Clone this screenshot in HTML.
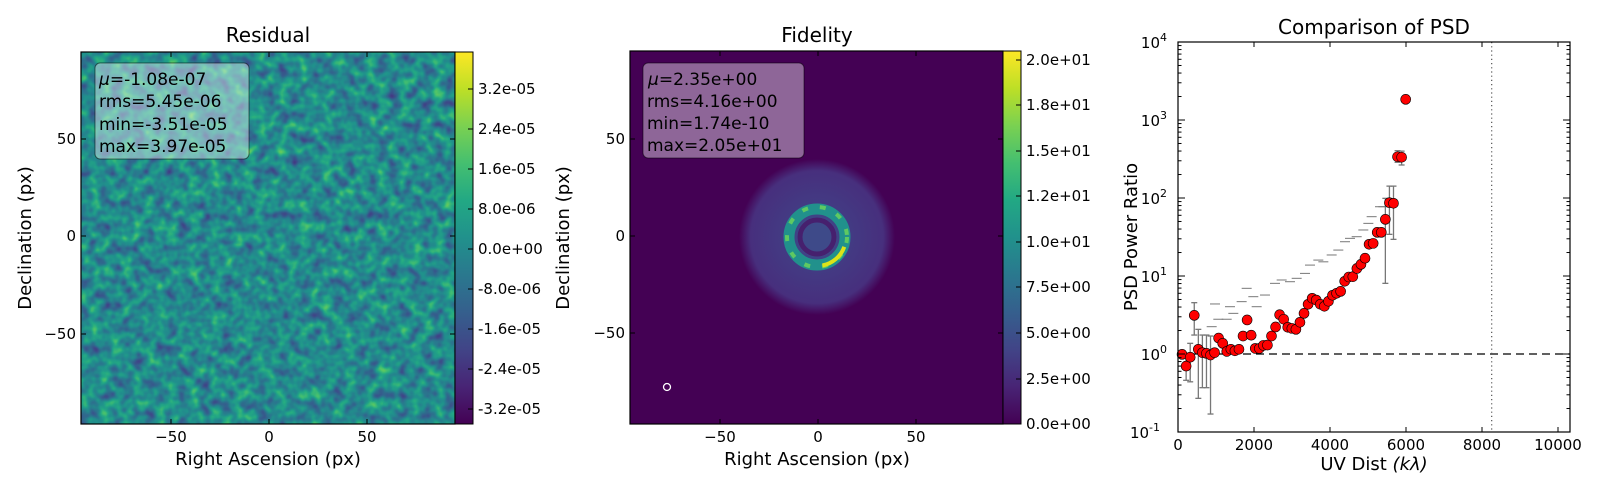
<!DOCTYPE html>
<html><head><meta charset="utf-8"><style>
html,body{margin:0;padding:0;background:#fff;}
svg{display:block;font-family:"DejaVu Sans","Liberation Sans",sans-serif;}
</style></head><body>
<svg id="fig" width="1600" height="500" viewBox="0 0 1600 500" xmlns="http://www.w3.org/2000/svg">
<defs>
  <linearGradient id="viridis" x1="0" y1="1" x2="0" y2="0">
    <stop offset="0" stop-color="#440154"/><stop offset="0.1" stop-color="#482475"/>
    <stop offset="0.2" stop-color="#414487"/><stop offset="0.3" stop-color="#355f8d"/>
    <stop offset="0.4" stop-color="#2a788e"/><stop offset="0.5" stop-color="#21918c"/>
    <stop offset="0.6" stop-color="#22a884"/><stop offset="0.7" stop-color="#44bf70"/>
    <stop offset="0.8" stop-color="#7ad151"/><stop offset="0.9" stop-color="#bddf26"/>
    <stop offset="1" stop-color="#fde725"/>
  </linearGradient>
  <filter id="resnoise" x="0" y="0" width="1" height="1" color-interpolation-filters="sRGB">
    <feTurbulence type="fractalNoise" baseFrequency="0.09" numOctaves="2" seed="7"/>
    <feColorMatrix type="matrix" values="0.75 0 0 0 0.1  0.75 0 0 0 0.1  0.75 0 0 0 0.1  0 0 0 0 1"/>
    <feComponentTransfer>
      <feFuncR type="table" tableValues="0.267 0.283 0.254 0.207 0.164 0.128 0.135 0.267 0.478 0.741 0.993"/>
      <feFuncG type="table" tableValues="0.005 0.141 0.265 0.372 0.471 0.567 0.659 0.749 0.821 0.873 0.906"/>
      <feFuncB type="table" tableValues="0.329 0.458 0.530 0.553 0.558 0.551 0.518 0.441 0.318 0.150 0.144"/>
    </feComponentTransfer>
  </filter>
  <radialGradient id="halo" cx="0.5" cy="0.5" r="0.5">
    <stop offset="0" stop-color="#3b4f8a"/><stop offset="0.45" stop-color="#433a83"/>
    <stop offset="0.85" stop-color="#472f7d"/><stop offset="1" stop-color="#440154"/>
  </radialGradient>
</defs>

<!-- Residual panel -->
<g>
  <text x="268" y="42" font-size="20" text-anchor="middle">Residual</text>
  <rect x="81" y="52" width="374" height="372" filter="url(#resnoise)"/>
  <rect x="81" y="52" width="374" height="372" fill="none" stroke="#000" stroke-width="1.2"/>
  <g stroke="#000" stroke-width="1">
    <line x1="171" y1="424" x2="171" y2="419"/><line x1="269" y1="424" x2="269" y2="419"/><line x1="367" y1="424" x2="367" y2="419"/>
    <line x1="171" y1="52" x2="171" y2="57"/><line x1="269" y1="52" x2="269" y2="57"/><line x1="367" y1="52" x2="367" y2="57"/>
    <line x1="81" y1="139" x2="86" y2="139"/><line x1="81" y1="236" x2="86" y2="236"/><line x1="81" y1="334" x2="86" y2="334"/>
    <line x1="455" y1="139" x2="450" y2="139"/><line x1="455" y1="236" x2="450" y2="236"/><line x1="455" y1="334" x2="450" y2="334"/>
  </g>
  <g font-size="15" text-anchor="middle">
    <text x="171" y="442">−50</text><text x="269" y="442">0</text><text x="367" y="442">50</text>
  </g>
  <g font-size="15" text-anchor="end">
    <text x="76" y="144">50</text><text x="76" y="241">0</text><text x="76" y="339">−50</text>
  </g>
  <text x="268" y="465" font-size="18" text-anchor="middle">Right Ascension (px)</text>
  <text transform="translate(31,238) rotate(-90)" font-size="18" text-anchor="middle">Declination (px)</text>
  <g>
    <rect x="95" y="63" width="154" height="96" rx="5" fill="rgba(255,255,255,0.4)" stroke="rgba(0,0,0,0.5)"/>
    <g font-size="17">
      <text x="99" y="85"><tspan font-style="italic">μ</tspan>=-1.08e-07</text>
      <text x="99" y="107">rms=5.45e-06</text>
      <text x="99" y="130">min=-3.51e-05</text>
      <text x="99" y="152">max=3.97e-05</text>
    </g>
  </g>
  <rect x="455" y="52" width="18" height="372" fill="url(#viridis)" stroke="#000"/>
  <g font-size="15">
    <g stroke="#000"><line x1="468" y1="89" x2="473" y2="89"/><line x1="468" y1="129" x2="473" y2="129"/><line x1="468" y1="169" x2="473" y2="169"/><line x1="468" y1="209" x2="473" y2="209"/><line x1="468" y1="249" x2="473" y2="249"/><line x1="468" y1="289" x2="473" y2="289"/><line x1="468" y1="329" x2="473" y2="329"/><line x1="468" y1="369" x2="473" y2="369"/><line x1="468" y1="409" x2="473" y2="409"/></g>
    <text x="478" y="94">3.2e-05</text><text x="478" y="134">2.4e-05</text><text x="478" y="174">1.6e-05</text>
    <text x="478" y="214">8.0e-06</text><text x="478" y="254">0.0e+00</text><text x="478" y="294">-8.0e-06</text>
    <text x="478" y="334">-1.6e-05</text><text x="478" y="374">-2.4e-05</text><text x="478" y="414">-3.2e-05</text>
  </g>
</g>

<!-- Fidelity panel -->
<g>
  <text x="817" y="42" font-size="20" text-anchor="middle">Fidelity</text>
  <rect x="630" y="51" width="373" height="373" fill="#440154"/>
  <circle cx="817" cy="237" r="78" fill="url(#halo)"/>
  <circle cx="817" cy="237" r="28" fill="none" stroke="#21918c" stroke-width="11"/>
  <circle cx="817" cy="237" r="30" fill="none" stroke="#5ec962" stroke-width="4" stroke-dasharray="6 12"/>
  <circle cx="817" cy="237" r="29" fill="none" stroke="#dde318" stroke-width="4" stroke-dasharray="30 155" stroke-dashoffset="-10"/>
  <circle cx="817" cy="237" r="20" fill="#3e4a89"/>
  <circle cx="817" cy="237" r="17" fill="none" stroke="#46206e" stroke-width="5"/>
  <circle cx="667" cy="387" r="3.5" fill="none" stroke="#fff" stroke-width="1.3"/>
  <rect x="630" y="51" width="373" height="373" fill="none" stroke="#000" stroke-width="1.2"/>
  <g stroke="#000" stroke-width="1">
    <line x1="720" y1="424" x2="720" y2="419"/><line x1="818" y1="424" x2="818" y2="419"/><line x1="916" y1="424" x2="916" y2="419"/>
    <line x1="720" y1="51" x2="720" y2="56"/><line x1="818" y1="51" x2="818" y2="56"/><line x1="916" y1="51" x2="916" y2="56"/>
    <line x1="630" y1="139" x2="635" y2="139"/><line x1="630" y1="236" x2="635" y2="236"/><line x1="630" y1="333" x2="635" y2="333"/>
    <line x1="1003" y1="139" x2="998" y2="139"/><line x1="1003" y1="236" x2="998" y2="236"/><line x1="1003" y1="333" x2="998" y2="333"/>
  </g>
  <g font-size="15" text-anchor="middle">
    <text x="720" y="442">−50</text><text x="818" y="442">0</text><text x="916" y="442">50</text>
  </g>
  <g font-size="15" text-anchor="end">
    <text x="625" y="144">50</text><text x="625" y="241">0</text><text x="625" y="338">−50</text>
  </g>
  <text x="817" y="465" font-size="18" text-anchor="middle">Right Ascension (px)</text>
  <text transform="translate(569,238) rotate(-90)" font-size="18" text-anchor="middle">Declination (px)</text>
  <g>
    <rect x="643" y="63" width="161" height="95" rx="5" fill="rgba(255,255,255,0.4)" stroke="rgba(0,0,0,0.5)"/>
    <g font-size="17">
      <text x="648" y="85"><tspan font-style="italic">μ</tspan>=2.35e+00</text>
      <text x="647" y="107">rms=4.16e+00</text>
      <text x="647" y="129">min=1.74e-10</text>
      <text x="647" y="151">max=2.05e+01</text>
    </g>
  </g>
  <rect x="1003" y="51" width="18" height="373" fill="url(#viridis)" stroke="#000"/>
  <g font-size="15">
    <g stroke="#000"><line x1="1016" y1="60" x2="1021" y2="60"/><line x1="1016" y1="105" x2="1021" y2="105"/><line x1="1016" y1="151" x2="1021" y2="151"/><line x1="1016" y1="196" x2="1021" y2="196"/><line x1="1016" y1="242" x2="1021" y2="242"/><line x1="1016" y1="287" x2="1021" y2="287"/><line x1="1016" y1="333" x2="1021" y2="333"/><line x1="1016" y1="379" x2="1021" y2="379"/></g>
    <text x="1026" y="65">2.0e+01</text><text x="1026" y="110">1.8e+01</text><text x="1026" y="156">1.5e+01</text>
    <text x="1026" y="201">1.2e+01</text><text x="1026" y="247">1.0e+01</text><text x="1026" y="292">7.5e+00</text>
    <text x="1026" y="338">5.0e+00</text><text x="1026" y="384">2.5e+00</text><text x="1026" y="429">0.0e+00</text>
  </g>
</g>

<!-- PSD panel -->
<g id="psd">
  <text x="1374" y="34" font-size="20" text-anchor="middle">Comparison of PSD</text>
  <text x="1374" y="470" font-size="18" text-anchor="middle">UV Dist <tspan font-style="italic">(kλ)</tspan></text>
  <text transform="translate(1137,237) rotate(-90)" font-size="18" text-anchor="middle">PSD Power Ratio</text>
</g>
</svg>
<script>
// PSD data
const uvDist = [107,214,321,428,535,642,749,856,963,1070,1177,1284,1391,1498,1605,1712,1819,1926,2033,2140,2247,2354,2461,2568,2675,2782,2889,2996,3103,3210,3317,3424,3531,3638,3745,3852,3959,4066,4173,4280,4387,4494,4601,4708,4815,4922,5029,5136,5243,5350,5457,5564,5671,5778,5885,5992];
const powerRatio = [0.99,0.70,0.91,3.13,1.15,1.04,1.02,0.97,1.04,1.60,1.37,1.08,1.15,1.10,1.15,1.70,2.73,1.74,1.18,1.18,1.29,1.30,1.70,2.22,3.19,2.79,2.20,2.13,2.07,2.55,3.32,4.34,5.18,4.92,4.34,4.09,4.74,5.66,6.00,6.36,8.55,9.71,9.80,12.5,14.1,16.9,25.5,26.2,36.3,36.3,53.3,87,85.5,338,333,1840];
const errIndex = [1,2,3,4,5,6,7,50,51,52,53,54];
const errLow = [0.46,0.44,1.75,0.27,0.37,0.37,0.17,8.05,34.2,29.5,287,265];
const errHigh = [0.90,1.37,4.55,2.07,1.75,1.75,1.70,99,142,142,404,399];
const modelX = [886,1061,1281,1456,974,1368,1807,1675,1982,2070,2289,2553,2728,2947,3123,3342,3474,3693,3825,4044,4219,4395,4526,4702,4877,5009,5096,5316,5404];
const modelY = [2.24,2.79,2.79,3.32,4.38,4.04,6.95,4.69,5.43,4.04,5.70,8.05,8.89,8.45,9.34,10.8,13.8,16.0,15.2,18.6,21.5,27.5,30.4,31.9,38.9,47.3,57.6,77.3,77.3];
const xTicks = [0,2000,4000,6000,8000,10000];
const xTickLabels = ["0","2000","4000","6000","8000","10000"];
const yExps = [-1,0,1,2,3,4];
const refLineY = 1;
const beamLimitX = 8255;

const L=1178,R=1570,T=42,B=432,XMAX=10316,YMIN=-1,YMAX=4;
function xs(v){return L+(v/XMAX)*(R-L);}
function ys(v){return B-(Math.log10(v)-YMIN)/(YMAX-YMIN)*(B-T);}
const NS="http://www.w3.org/2000/svg";
const g=document.getElementById('psd');
function mk(tag,attrs,parent){const e=document.createElementNS(NS,tag);for(const k in attrs)e.setAttribute(k,attrs[k]);(parent||g).appendChild(e);return e;}

let e=mk('line',{x1:L,x2:R,y1:ys(refLineY),y2:ys(refLineY),stroke:'#000','stroke-width':1.2,'stroke-dasharray':'8 5'});


e=mk('line',{x1:xs(beamLimitX),x2:xs(beamLimitX),y1:T,y2:B,stroke:'#555','stroke-width':1.2,'stroke-dasharray':'1.2 3'});



modelX.forEach((x,i)=>{
  const d=mk('line',{x1:xs(x)-5,x2:xs(x)+5,y1:ys(modelY[i]),y2:ys(modelY[i]),stroke:'#777','stroke-width':1});
  
  
});
errIndex.forEach((idx,i)=>{
  const x=xs(uvDist[idx]);
  const eb=mk('g',{stroke:'#777','stroke-width':1.3});
  
  
  mk('line',{x1:x,x2:x,y1:ys(errLow[i]),y2:ys(errHigh[i])},eb);
  mk('line',{x1:x-3,x2:x+3,y1:ys(errLow[i]),y2:ys(errLow[i])},eb);
  mk('line',{x1:x-3,x2:x+3,y1:ys(errHigh[i]),y2:ys(errHigh[i])},eb);
});
uvDist.forEach((x,i)=>{
  const c=mk('circle',{cx:xs(x),cy:ys(powerRatio[i]),r:5,fill:'#ff0000',stroke:'#000','stroke-width':0.6});
  
  
});
e=mk('rect',{x:L,y:T,width:R-L,height:B-T,fill:'none',stroke:'#000','stroke-width':1.2});


xTicks.forEach((v,i)=>{
  const x=xs(v);
  mk('line',{x1:x,x2:x,y1:B,y2:B-5,stroke:'#000'});
  mk('line',{x1:x,x2:x,y1:T,y2:T+5,stroke:'#000'});
  const t=mk('text',{x:x,y:B+18,'font-size':15,'text-anchor':'middle'});
  t.textContent=xTickLabels[i];
  
  
});
yExps.forEach((p,i)=>{
  const y=ys(Math.pow(10,p));
  mk('line',{x1:L,x2:L+7,y1:y,y2:y,stroke:'#000'});
  mk('line',{x1:R,x2:R-7,y1:y,y2:y,stroke:'#000'});
  if(i<yExps.length-1){for(let m=2;m<10;m++){const ym=ys(m*Math.pow(10,p));
    mk('line',{x1:L,x2:L+3.5,y1:ym,y2:ym,stroke:'#000'});mk('line',{x1:R,x2:R-3.5,y1:ym,y2:ym,stroke:'#000'});}}
  const t=mk('text',{x:L-18,y:y+6,'font-size':15,'text-anchor':'end'});
  t.textContent='10';
  const s=mk('tspan',{'font-size':11,dy:-7},t);
  s.textContent=String(p);
  
  
  t.setAttribute('x',L-4-(String(p).length*7));
});
</script>
</body></html>
